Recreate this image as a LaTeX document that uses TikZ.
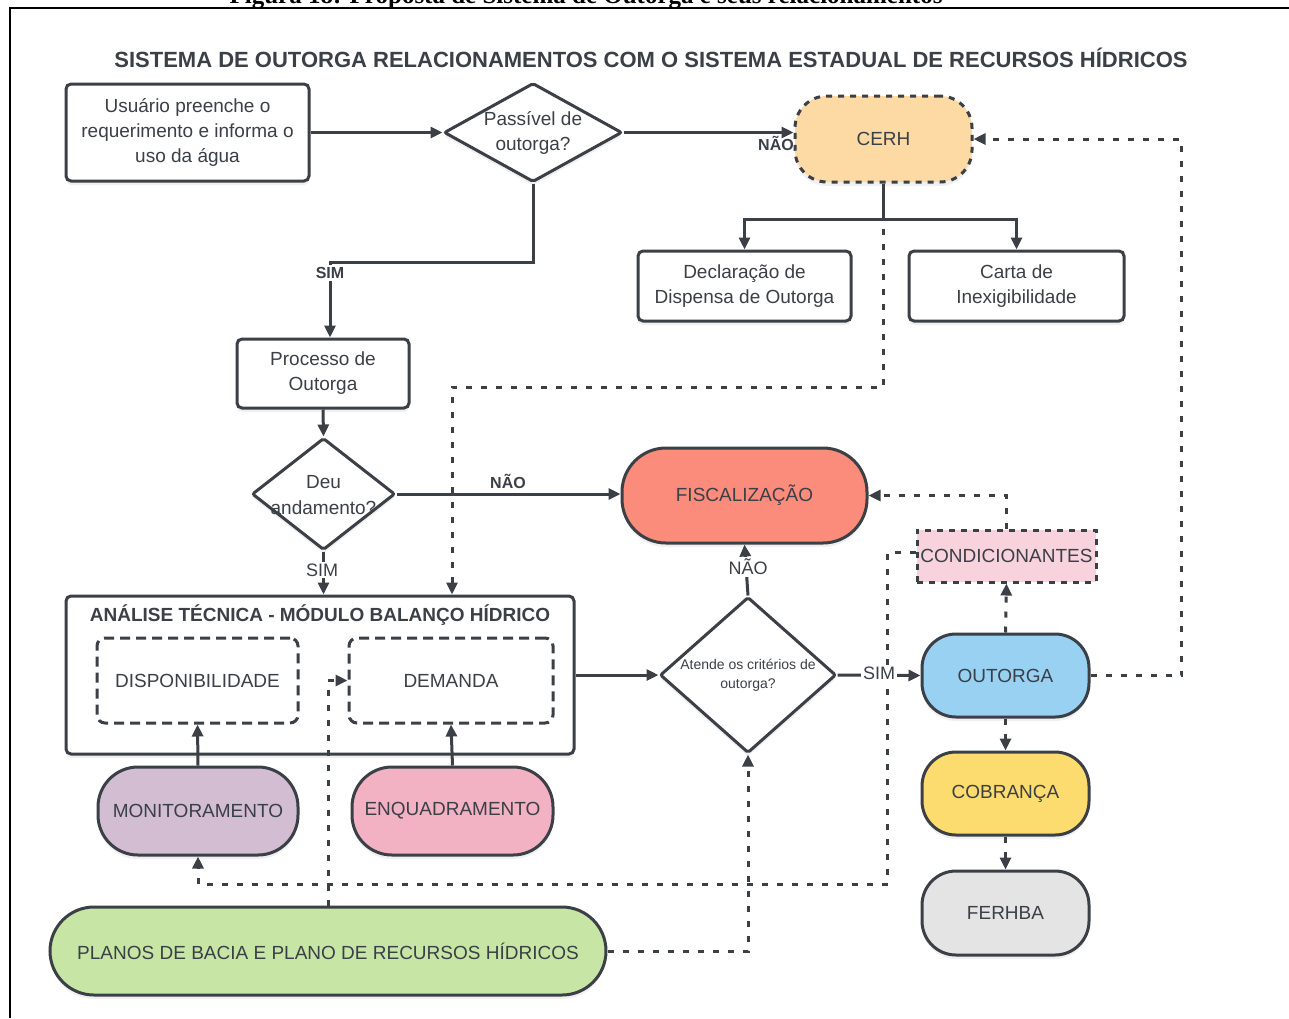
\documentclass[tikz,border=0pt]{standalone}
\usepackage{fontspec}
\setmainfont{Liberation Sans}
\newfontfamily\capfont{Liberation Serif}
\usetikzlibrary{arrows.meta,shapes.geometric,shadows}

\definecolor{ink}{HTML}{3B3F46}
\definecolor{cerhfill}{HTML}{FDD9A4}
\definecolor{fiscfill}{HTML}{FB8C7C}
\definecolor{condfill}{HTML}{F8D3DE}
\definecolor{outfill}{HTML}{99D1F2}
\definecolor{cobfill}{HTML}{FDDC6F}
\definecolor{ferfill}{HTML}{E4E4E4}
\definecolor{monfill}{HTML}{D2BDD3}
\definecolor{enqfill}{HTML}{F2B2C4}
\definecolor{plafill}{HTML}{C7E6A6}

\newcommand\fsz[2]{\fontsize{#1}{#2}\selectfont}

\begin{document}
\begin{tikzpicture}[x=0.5pt,y=-0.5pt,
  line/.style={draw=ink, line width=1.5pt},
  arr/.style={line, -{Triangle[length=6pt,width=5.5pt]}},
  dsh/.style={arr, dash pattern=on 3pt off 4.5pt},
  shade/.style={drop shadow={opacity=0.12,shadow xshift=0pt,shadow yshift=-2pt}},
  base/.style={draw=ink, line width=1.5pt, text=ink, align=center, inner sep=0pt,
               font=\fsz{9.5}{12.5}},
  box/.style={base, fill=white, rounded corners=2.5pt, shade},
  pill/.style={base, rounded corners=#1, shade},
  decision/.style={draw=ink, line width=1.5pt, diamond, inner sep=0pt, fill=white,
                   rounded corners=1pt, shade},
  dtext/.style={text=ink, align=center, inner sep=0pt, font=\fsz{9.5}{12.8}},
  inner/.style={base, fill=white, rounded corners=4pt, dash pattern=on 5pt off 3pt},
  dotbox/.style={dash pattern=on 3pt off 3pt},
  lbl/.style={text=ink, inner sep=1pt},
  boldlbl/.style={lbl, font=\bfseries\fsz{8}{10}},
  plainlbl/.style={lbl, fill=white, font=\fsz{9}{11}},
]
\useasboundingbox (0,0) rectangle (1289,1018);
\clip (0,0) rectangle (1289,1018);

% page frame and figure caption
\draw[black, line width=1.3pt] (10,1018) -- (10,8) -- (1289,8);
\node[anchor=base, font=\capfont\bfseries\fsz{12.5}{14}] (caption) at (586,3)
  {Figura 18: Proposta de Sistema de Outorga e seus relacionamentos};

% heading
\node[text=ink, font=\bfseries\fsz{11}{14}] (title) at (651,58)
  {SISTEMA DE OUTORGA RELACIONAMENTOS COM O SISTEMA ESTADUAL DE RECURSOS HÍDRICOS};

% nodes
\node[box, minimum width=121.5pt, minimum height=48.5pt] (user) at (187.5,132.5)
  {Usuário preenche o\\requerimento e informa o\\uso da água};
\node[decision, minimum width=89pt, minimum height=49.5pt] (passivel) at (533,132.5) {};
\node[dtext] (passiveltext) at (533,133) {Passível de\\outorga?};
\node[pill=16pt, fill=cerhfill, dotbox, minimum width=88.5pt, minimum height=43pt] (cerh) at (883.5,139)
  {CERH};
\node[box, minimum width=106.5pt, minimum height=35pt] (decl) at (744.5,286)
  {Declaração de\\Dispensa de Outorga};
\node[box, minimum width=107.5pt, minimum height=35pt] (carta) at (1016.5,286)
  {Carta de\\Inexigibilidade};
\node[box, minimum width=86pt, minimum height=34.5pt] (processo) at (323,373.5)
  {Processo de\\Outorga};
\node[decision, minimum width=71.5pt, minimum height=56pt] (deu) at (323.5,494) {};
\node[dtext] (deutext) at (323.5,495) {Deu\\andamento?};
\node[pill=22pt, fill=fiscfill, minimum width=122.5pt, minimum height=47.5pt] (fisc) at (744.5,495.5)
  {FISCALIZAÇÃO};
\node[box, minimum width=254pt, minimum height=79pt] (analise) at (320,675) {};
\node[text=ink, font=\bfseries\fsz{9.5}{11}] (analisetitle) at (320,615)
  {ANÁLISE TÉCNICA - MÓDULO BALANÇO HÍDRICO};
\node[inner, minimum width=100.5pt, minimum height=42.5pt] (disp) at (197.5,680.5)
  {DISPONIBILIDADE};
\node[inner, minimum width=102pt, minimum height=42.5pt] (dem) at (451,680.5)
  {DEMANDA};
\node[pill=20pt, fill=monfill, minimum width=100pt, minimum height=44pt] (monit) at (198,811)
  {MONITORAMENTO};
\node[pill=20pt, fill=enqfill, minimum width=100.5pt, minimum height=44pt] (enq) at (452.5,811)
  {ENQUADRAMENTO};
\node[decision, minimum width=88pt, minimum height=78pt] (atende) at (748,675) {};
\node[dtext, font=\fsz{7}{9.5}] (atendetext) at (748,675) {Atende os critérios de\\outorga?};
\node[pill=17pt, fill=outfill, minimum width=83.5pt, minimum height=41.5pt] (outorga) at (1005.5,675.5)
  {OUTORGA};
\node[base, fill=condfill, dotbox, minimum width=89.5pt, minimum height=26pt] (cond) at (1006.5,556)
  {CONDICIONANTES};
\node[pill=17pt, fill=cobfill, minimum width=83.5pt, minimum height=41.5pt] (cobranca) at (1005.5,793.5)
  {COBRANÇA};
\node[pill=17pt, fill=ferfill, minimum width=83.5pt, minimum height=42pt] (ferhba) at (1005.5,913)
  {FERHBA};
\node[pill=22pt, fill=plafill, minimum width=278pt, minimum height=44pt] (planos) at (328,951)
  {PLANOS DE BACIA E PLANO DE RECURSOS HÍDRICOS};

% dashed relationships (drawn first so solid flow lines sit on top)
\draw[dsh] (cerh.south) -- (cerh.south |- 0,387) -| (analise.north -| 452,0);
\draw[dsh] (outorga.east) -- ++(91,0) |- (cerh.east);
\draw[dsh] (outorga.north) -- (cond.south);
\draw[dsh] (cond.north) |- (fisc.east);
\draw[dsh] ([yshift=2pt]cond.west) -- ++(-28,0) -- ++(0,332) -| (monit.south);
\draw[dsh] (planos.north) |- (dem.west);
\draw[dsh] (planos.east) -| (atende.south);
\draw[dsh] (outorga.south) -- (cobranca.north);
\draw[dsh] (cobranca.south) -- (ferhba.north);

% main flow
\draw[arr] (user.east) -- (passivel.west);
\draw[arr] (passivel.east) -- (passivel.east -| cerh.west);
\node[boldlbl] (naocerh) at (776,143) {NÃO};
\draw[line] (cerh.south) -- ++(0,36) coordinate (split);
\draw[arr] (split) -| (decl.north);
\draw[arr] (split) -| (carta.north);
\draw[arr] (passivel.south) -- ++(0,79) -| ([xshift=3.5pt]processo.north);
\node[boldlbl, fill=white] (simproc) at (330,273) {SIM};
\draw[arr] (processo.south) -- (deu.north);
\draw[arr] (deu.east) -- (deu.east -| fisc.west);
\node[boldlbl] (naofisc) at (508,481) {NÃO};
\draw[arr] (deu.south) -- (deu.south |- analise.north);
\node[plainlbl] (simanal) at (322,570) {SIM};
\draw[arr] (analise.east) -- (atende.west);
\draw[arr] (atende.north) -- (fisc.south);
\node[plainlbl] (naoatende) at (748,567) {NÃO};
\draw[arr] (atende.east) -- (outorga.west);
\node[plainlbl] (simatende) at (879,673) {SIM};
\draw[arr] (monit.north) -- (disp.south);
\draw[arr] (enq.north) -- (dem.south);
\end{tikzpicture}
\end{document}
